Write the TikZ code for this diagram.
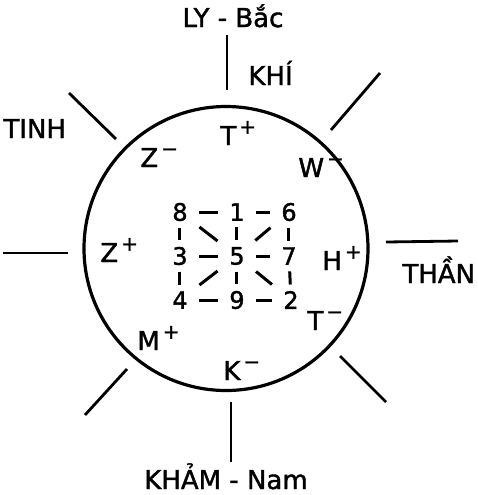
\documentclass[tikz,border=0pt]{standalone}
\usepackage{fontspec}
\setmainfont{DejaVu Sans}[FakeBold=1.5]
\newcommand{\upmark}[1]{\hspace{1.5pt}\raisebox{0.8ex}{\fontsize{10}{11}\selectfont #1}}

\begin{document}
\begin{tikzpicture}[x=0.5pt, y=-0.5pt,
    word/.style={font=\fontsize{13}{15}\selectfont, inner sep=0pt},
    sign/.style={font=\fontsize{13}{15}\selectfont, inner sep=0pt, anchor=base west},
    digit/.style={font=\fontsize{12}{13}\selectfont, inner xsep=5.7pt, inner ysep=3.1pt},
    ray/.style={line width=1.4pt},
    link/.style={line width=1.5pt}]
    \useasboundingbox (0,0) rectangle (478,495);

    % The circle
    \draw[line width=1.6pt] (226,248.5) circle[radius=71pt];

    % Rays around the circle
    \draw[ray] (227,35) -- (227,90);    % top
    \draw[ray] (69,93) -- (116,139);    % top left
    \draw[ray] (331,130) -- (380,73);   % top right
    \draw[ray] (3,253) -- (68,253);     % left
    \draw[ray] (386,242) -- (458,241);  % right
    \draw[ray] (127,369) -- (85,415);   % bottom left
    \draw[ray] (340,356) -- (386,402);  % bottom right
    \draw[ray] (231,402) -- (231,462);  % bottom

    % Outer labels
    \node[word, anchor=base] (bac) at (233,27) {LY - Bắc};
    \node[word, anchor=base west] (khi) at (248,85) {KHÍ};
    \node[word, anchor=base west] (tinh) at (3,138) {TINH};
    \node[word, anchor=base west] (than) at (402,283) {THẦN};
    \node[word, anchor=base] (nam) at (226,489) {KHẢM - Nam};

    % Signs inside the circle
    \node[sign] (zm) at (140,167) {Z\upmark{−}};
    \node[sign] (tp) at (220,145) {T\upmark{+}};
    \node[sign] (wm) at (298,177) {W\upmark{−}};
    \node[sign] (zp) at (100,262) {Z\upmark{+}};
    \node[sign] (hp) at (322,270) {H\upmark{+}};
    \node[sign] (tm) at (307,330) {T\upmark{−}};
    \node[sign] (mp) at (137,350) {M\upmark{+}};
    \node[sign] (km) at (223,380) {K\upmark{−}};

    % Magic square of numbers
    \node[digit] (n8) at (180,212) {8};
    \node[digit] (n1) at (237,212) {1};
    \node[digit] (n6) at (289,212) {6};
    \node[digit] (n3) at (180,256) {3};
    \node[digit] (n5) at (237,256) {5};
    \node[digit] (n7) at (289,256) {7};
    \node[digit] (n4) at (180,300) {4};
    \node[digit] (n9) at (237,300) {9};
    \node[digit] (n2) at (291,300) {2};

    % Short links between the numbers
    \foreach \a/\b in {n8/n1, n1/n6, n3/n5, n5/n7, n4/n9, n9/n2,
                       n8/n3, n3/n4, n1/n5, n5/n9, n6/n7, n7/n2,
                       n8/n5, n6/n5, n4/n5, n2/n5} {
        \draw[link] (\a) -- (\b);
    }
\end{tikzpicture}
\end{document}
